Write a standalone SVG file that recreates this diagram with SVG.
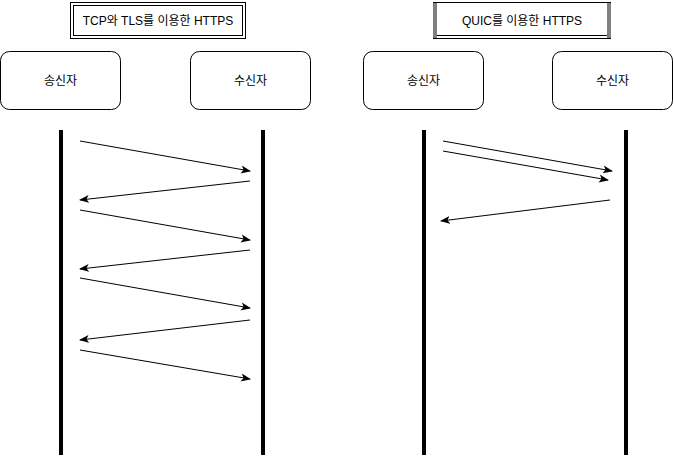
<svg xmlns="http://www.w3.org/2000/svg" width="674" height="458" viewBox="0 0 674 458">
<defs>
<style>
text{font-family:"Liberation Sans","Noto Sans CJK KR",sans-serif;font-size:12px;fill:#000;text-anchor:middle;dominant-baseline:central}
.node{fill:#fff;stroke:#000;stroke-width:1}
.life{stroke:#000;stroke-width:4}
.msg{stroke:#000;stroke-width:1;fill:none;marker-end:url(#arr)}
</style>
<marker id="arr" viewBox="0 0 10 10" refX="9" refY="5" markerWidth="10" markerHeight="10" markerUnits="userSpaceOnUse" orient="auto">
<path d="M0,1 L10,5 L0,9 L2.5,5 Z" fill="#000"/>
</marker>
</defs>
<g id="title-tcp">
<rect x="70.5" y="2.5" width="175" height="36" fill="#fff" stroke="#000"/>
<rect x="73.5" y="5.5" width="169" height="30" fill="none" stroke="#000"/>
<text x="158" y="20.5">TCP와 TLS를 이용한 HTTPS</text>
</g>
<g id="title-quic">
<rect x="433.5" y="2.5" width="177" height="36" fill="#fff" stroke="#000"/>
<rect x="433" y="3" width="4" height="35" fill="#808080"/>
<rect x="607" y="3" width="4" height="35" fill="#808080"/>
<line x1="437" y1="35.5" x2="607" y2="35.5" stroke="#000"/>
<text x="522" y="20.5">QUIC를 이용한 HTTPS</text>
</g>
<g id="sender-1"><rect class="node" x="0.5" y="51.5" width="120" height="58" rx="9"/><text x="60.5" y="80.5">송신자</text></g>
<g id="receiver-1"><rect class="node" x="190.5" y="51.5" width="120" height="58" rx="9"/><text x="250.5" y="80.5">수신자</text></g>
<g id="sender-2"><rect class="node" x="363.5" y="51.5" width="120" height="58" rx="9"/><text x="423.5" y="80.5">송신자</text></g>
<g id="receiver-2"><rect class="node" x="552.5" y="51.5" width="120" height="58" rx="9"/><text x="612.5" y="80.5">수신자</text></g>
<g id="lifelines">
<line class="life" x1="61" y1="130" x2="61" y2="455"/>
<line class="life" x1="263" y1="130" x2="263" y2="455"/>
<line class="life" x1="424" y1="130" x2="424" y2="455"/>
<line class="life" x1="626" y1="130" x2="626" y2="455"/>
</g>
<g id="connectors">
<line class="msg" x1="80" y1="141" x2="250" y2="171"/>
<line class="msg" x1="250" y1="181" x2="80" y2="200"/>
<line class="msg" x1="80" y1="210" x2="250" y2="240"/>
<line class="msg" x1="250" y1="250" x2="80" y2="269"/>
<line class="msg" x1="80" y1="278" x2="250" y2="308"/>
<line class="msg" x1="250" y1="320" x2="80" y2="340"/>
<line class="msg" x1="80" y1="350" x2="250" y2="379"/>
<line class="msg" x1="443" y1="141" x2="612" y2="171"/>
<line class="msg" x1="443" y1="151" x2="608" y2="180"/>
<line class="msg" x1="610" y1="200" x2="441" y2="221"/>
</g>
</svg>
